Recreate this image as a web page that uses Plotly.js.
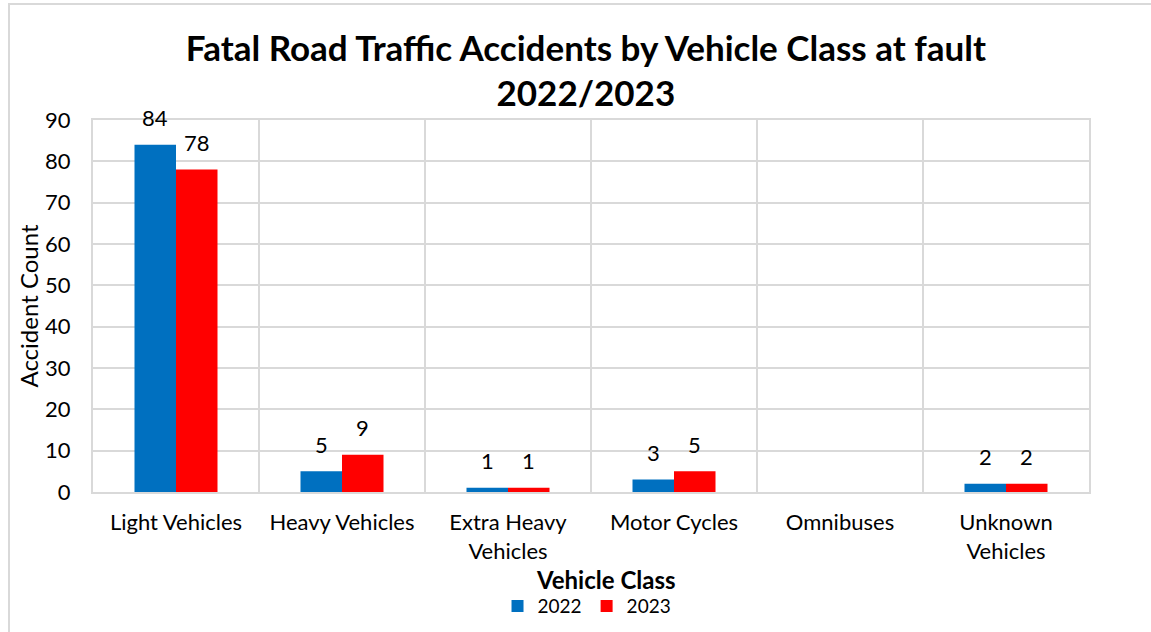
<!DOCTYPE html>
<html>
<head>
<meta charset="utf-8">
<script src="https://cdn.plot.ly/plotly-3.0.1.min.js"></script>
<style>
  html, body { margin: 0; background: #fff; overflow: hidden; width: 1151px; height: 632px; }
  #frame { position: absolute; left: 8px; top: 3px; width: 1143px; height: 629px;
           border-left: 2px solid #d9d9d9; border-top: 2px solid #d9d9d9; box-sizing: border-box; }
  #chart { position: absolute; left: 0; top: 0; width: 1151px; height: 632px; }
</style>
</head>
<body>
<div id="frame"></div>
<div id="chart"></div>
<script>
const FONT = "Lato, 'Open Sans', sans-serif";
const BLUE = "#0070C0";
const RED = "#FF0000";
const GRID = "#d9d9d9";

const categories = [
  "Light Vehicles",
  "Heavy Vehicles",
  "Extra Heavy<br>Vehicles",
  "Motor Cycles",
  "Omnibuses",
  "Unknown<br>Vehicles",
];
const counts2022 = [84, 5, 1, 3, 0, 2];
const counts2023 = [78, 9, 1, 5, 0, 2];

const traces = [
  { name: "2022", x: categories, y: counts2022, type: "bar", marker: { color: BLUE }, hoverinfo: "none" },
  { name: "2023", x: categories, y: counts2023, type: "bar", marker: { color: RED }, hoverinfo: "none" },
];

// value labels sit well above the bars (Excel style), empty bars get none
const BAR_HALF = 0.125; // bargap 0.5 -> each bar 0.25 of a category
const annotations = [];
[counts2022, counts2023].forEach((vals, s) => {
  vals.forEach((v, i) => {
    if (v === 0) return;
    annotations.push({
      x: i + (s === 0 ? -BAR_HALF : BAR_HALF),
      y: v,
      xref: "x",
      yref: "y",
      text: String(v),
      showarrow: false,
      yanchor: "middle",
      yshift: 27,
      font: { family: FONT, size: 22, color: "#000" },
    });
  });
});

// x axis title, a bit right of centre like the original
annotations.push({
  xref: "paper",
  yref: "paper",
  x: 0.515,
  y: -0.234,
  xanchor: "center",
  yanchor: "middle",
  showarrow: false,
  text: "<b>Vehicle Class</b>",
  font: { family: FONT, size: 24, color: "#000" },
});

const layout = {
  width: 1151,
  height: 632,
  margin: { l: 93, r: 62, t: 120, b: 140 },
  paper_bgcolor: "rgba(0,0,0,0)",
  plot_bgcolor: "rgba(0,0,0,0)",
  font: { family: FONT, color: "#000" },
  title: {
    text: "<b>Fatal Road Traffic Accidents by Vehicle Class at fault<br>2022/2023</b>",
    font: { family: FONT, size: 35, color: "#000" },
    x: 0.509,
    xanchor: "center",
    y: 0.904,
    yanchor: "top",
  },
  barmode: "group",
  bargap: 0.5,
  bargroupgap: 0,
  xaxis: {
    type: "category",
    tickson: "boundaries",
    ticks: "",
    showgrid: true,
    gridcolor: GRID,
    gridwidth: 2,
    showline: true,
    linecolor: GRID,
    linewidth: 2,
    mirror: true,
    tickfont: { family: FONT, size: 22, color: "#000" },
    ticklabelstandoff: 10,
  },
  yaxis: {
    range: [0, 90],
    dtick: 10,
    showgrid: true,
    gridcolor: GRID,
    gridwidth: 2,
    zeroline: false,
    showline: true,
    linecolor: GRID,
    linewidth: 2,
    mirror: true,
    ticks: "",
    tickfont: { family: FONT, size: 22, color: "#000" },
    ticklabelstandoff: 16,
    title: {
      text: "Accident Count",
      font: { family: FONT, size: 24, color: "#000" },
      standoff: 0,
    },
  },
  annotations: annotations,
  showlegend: true,
  legend: {
    orientation: "h",
    x: 0.496,
    xanchor: "center",
    yref: "container",
    y: 0.041,
    yanchor: "middle",
    font: { family: FONT, size: 19, color: "#000" },
    itemwidth: 30,
    traceorder: "normal",
  },
};

Plotly.newPlot("chart", traces, layout, { displayModeBar: false, staticPlot: true });
</script>
</body>
</html>
